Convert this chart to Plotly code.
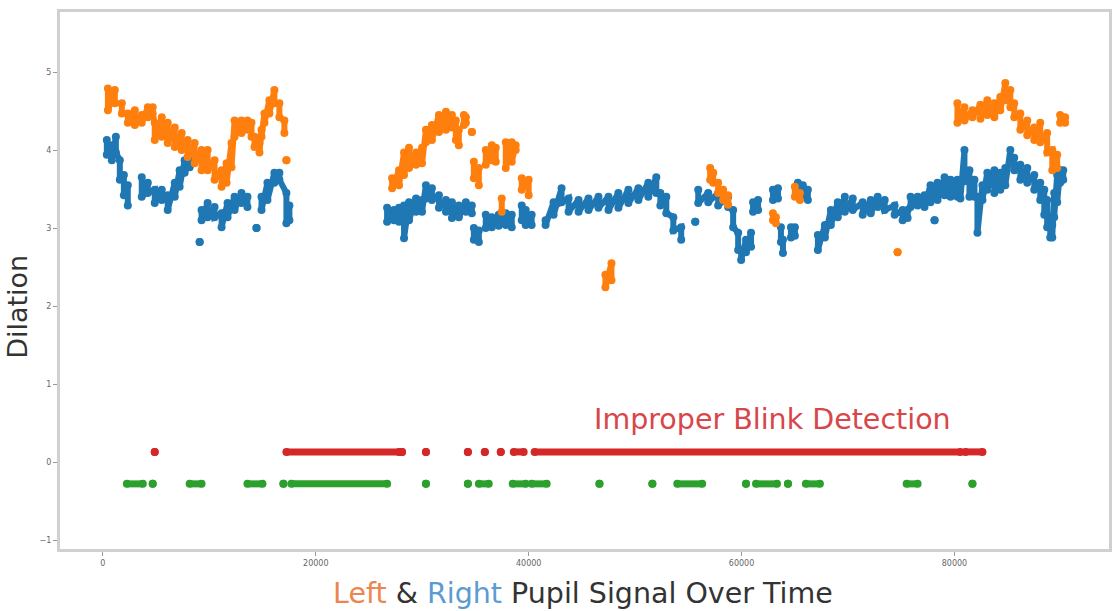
import plotly.graph_objects as go

# ---- Right pupil: time (ms), max / min dilation within each time bin; None marks a gap ----
right_t = [370, 840, 1220, 1590, 1970, 2340, None,
           3650, 4220, 4870, 5530, 6090, 6750, 7210, 7680, 8150, None,
           9090, None,
           9270, 9840, 10490, 11150, 11710, 12370, 13020, 13580, None,
           14430, None,
           14900, 15460, 16110, 16580, 17240, 17520, None,
           26700, 27350, 27820, 28290, 28760, 29420, 29980, 30350, 30910, 31570, 32230, 32790, 33440, 34100, 34660, None,
           34850, 35320, None,
           35970, 36540, 37190, 37850, 38410, None,
           39350, 39720, 40280, None,
           41590, 42340, 43090, 43750, 44690, 45620, 46560, 47500, 48430, 49370, 50310, 51240, 51990, 52370, 52930, 53590, 54330, None,
           55650, None,
           55930, 56870, 57800, 58740, 59210, 59680, 59960, 60420, 60890, None,
           61080, 61550, None,
           62950, 63420, None,
           63700, 63890, None,
           64640, 65010, None,
           65290, 65760, 66230, None,
           67170, 67830, 68390, 69040, 69700, 70450, 71380, 72140, 72790, 73450, 74380, 75130, 75600, None,
           75880, 76540, 77190, 77750, 78410, 79070, 79630, 80280, 80560, 80940,
           81410, 81880, 82160, 82630, 83090, 83750, 84310, 84780, 85250, 85620,
           86190, 86840, 87500, 88060, 88440, 88710, 89000, 89190, 89370, 89650,
           89930, 90220, None,
           78130]
right_max = [4.13, 4.06, 4.17, 3.87, 3.68, 3.55, None,
             3.65, 3.58, 3.49, 3.49, 3.42, 3.58, 3.74, 3.87, 3.87, None,
             2.82, None,
             3.23, 3.32, 3.27, 3.19, 3.32, 3.40, 3.45, 3.40, None,
             3.00, None,
             3.40, 3.58, 3.71, 3.71, 3.45, 3.29, None,
             3.26, 3.23, 3.26, 3.29, 3.33, 3.38, 3.36, 3.55, 3.51, 3.42, 3.36, 3.33, 3.29, 3.33, 3.29, None,
             3.00, 2.97, None,
             3.17, 3.14, 3.17, 3.19, 3.17, None,
             3.29, 3.23, 3.17, None,
             3.10, 3.33, 3.51, 3.38, 3.36, 3.38, 3.40, 3.40, 3.45, 3.49, 3.51, 3.58, 3.65, 3.45, 3.40, 3.14, 3.01, None,
             3.08, None,
             3.49, 3.45, 3.45, 3.40, 3.23, 2.94, 2.72, 2.85, 2.94, None,
             3.33, 3.36, None,
             3.49, 3.51, None,
             3.01, 2.85, None,
             3.01, 3.01, None,
             3.58, 3.55, 3.49, None,
             2.91, 3.04, 3.23, 3.33, 3.40, 3.38, 3.33, 3.36, 3.40, 3.36, 3.29, 3.23, 3.23, None,
             3.40, 3.40, 3.42, 3.55, 3.58, 3.65, 3.62, 3.62, 3.58, 4.00,
             3.74, 3.62, 3.40, 3.55, 3.71, 3.74, 3.71, 3.77, 4.00, 3.90,
             3.81, 3.77, 3.68, 3.58, 3.49, 3.36, 3.14, 3.04, 3.45, 3.68,
             3.74, 3.74, None,
             3.10]
right_min = [3.94, 3.87, 3.97, 3.62, 3.42, 3.29, None,
             3.40, 3.45, 3.32, 3.36, 3.23, 3.40, 3.53, 3.71, 3.78, None,
             2.82, None,
             3.10, 3.14, 3.14, 3.01, 3.14, 3.23, 3.32, 3.27, None,
             3.00, None,
             3.23, 3.36, 3.58, 3.62, 3.06, 3.10, None,
             3.08, 3.10, 3.08, 2.87, 3.10, 3.21, 3.21, 3.38, 3.36, 3.26, 3.21, 3.13, 3.14, 3.21, 3.19, None,
             2.85, 2.82, None,
             3.00, 3.01, 3.03, 3.04, 3.01, None,
             3.10, 3.04, 3.04, None,
             3.04, 3.17, 3.33, 3.21, 3.21, 3.23, 3.26, 3.23, 3.26, 3.32, 3.36, 3.40, 3.45, 3.29, 3.19, 2.97, 2.85, None,
             3.08, None,
             3.32, 3.33, 3.29, 3.27, 3.01, 2.72, 2.59, 2.69, 2.76, None,
             3.21, 3.23, None,
             3.36, 3.38, None,
             2.82, 2.68, None,
             2.88, 2.90, None,
             3.42, 3.40, 3.36, None,
             2.72, 2.88, 3.04, 3.14, 3.21, 3.23, 3.17, 3.19, 3.27, 3.23, 3.17, 3.10, 3.13, None,
             3.27, 3.29, 3.27, 3.33, 3.36, 3.42, 3.40, 3.40, 3.38, 3.60,
             3.40, 3.40, 2.94, 3.36, 3.49, 3.45, 3.49, 3.55, 3.83, 3.74,
             3.62, 3.58, 3.49, 3.36, 3.17, 3.01, 2.88, 2.88, 3.14, 3.33,
             3.58, 3.62, None,
             3.10]

# ---- Left pupil ----
left_t = [470, 1120, 1780, 2340, 3000, 3650, 4220, 4680, 4870, 5530,
          6090, 6750, 7400, 7960, 8620, 9270, 9840, 10490, 11150, 11620,
          12080, 12370, 13020, 13580, 13960, 14240, 14710, 14900, 15180, 15640,
          16110, 16580, 17050, None,
          17240, None,
          27170, 27820, 28290, 28760, 29420, 29980, 30350, 30910, 31570, 32230, 32790, 33160, 33440, None,
          33910, 34100, None,
          34660, None,
          34850, 35320, None,
          35970, 36540, 36910, None,
          37470, None,
          37850, 38410, 38780, None,
          39350, 40000, None,
          47210, 47780, None,
          57050, 57340, 57800, 58270, 58740, None,
          62950, 63230, None,
          65010, 65480, None,
          74660, None,
          80280, 80940, 81690, 82440, 83090, 83750, 84310, 84780, 85250, 85620,
          86190, 86840, 87500, 88060, 88710, 89190, 89650, None,
          89930, 90400]
left_max = [4.79, 4.77, 4.60, 4.47, 4.51, 4.45, 4.55, 4.55, 4.35, 4.42,
            4.35, 4.29, 4.22, 4.13, 4.09, 4.00, 4.00, 3.87, 3.74, 3.83,
            4.09, 4.38, 4.38, 4.38, 4.35, 4.17, 4.09, 4.26, 4.47, 4.64,
            4.77, 4.60, 4.38, None,
            3.87, None,
            3.64, 3.74, 3.97, 4.03, 3.97, 4.03, 4.26, 4.32, 4.45, 4.49, 4.45, 4.38, 4.26, None,
            4.45, 4.42, None,
            4.23, None,
            3.85, 3.77, None,
            4.00, 4.06, 4.03, None,
            3.38, None,
            4.10, 4.10, 4.06, None,
            3.64, 3.62, None,
            2.40, 2.55, None,
            3.77, 3.71, 3.58, 3.49, 3.42, None,
            3.19, 3.14, None,
            3.53, 3.45, None,
            2.69, None,
            4.60, 4.55, 4.51, 4.58, 4.64, 4.60, 4.68, 4.86, 4.77, 4.60,
            4.47, 4.38, 4.29, 4.35, 4.22, 4.00, 3.94, None,
            4.45, 4.42]
left_min = [4.51, 4.60, 4.47, 4.35, 4.32, 4.35, 4.42, 4.47, 4.13, 4.17,
            4.09, 4.04, 4.00, 3.91, 3.83, 3.74, 3.74, 3.62, 3.53, 3.58,
            3.78, 4.17, 4.22, 4.26, 4.17, 4.04, 3.97, 4.17, 4.35, 4.47,
            4.60, 4.42, 4.22, None,
            3.87, None,
            3.51, 3.55, 3.68, 3.77, 3.81, 3.83, 4.10, 4.13, 4.23, 4.26, 4.29, 4.13, 4.06, None,
            4.32, 4.35, None,
            4.23, None,
            3.64, 3.55, None,
            3.81, 3.87, 3.85, None,
            3.21, None,
            3.77, 3.85, 4.00, None,
            3.49, 3.42, None,
            2.24, 2.33, None,
            3.62, 3.58, 3.45, 3.36, 3.30, None,
            3.10, 3.06, None,
            3.40, 3.36, None,
            2.69, None,
            4.35, 4.38, 4.42, 4.40, 4.45, 4.42, 4.51, 4.64, 4.55, 4.42,
            4.26, 4.19, 4.13, 4.10, 3.97, 3.74, 3.77, None,
            4.35, 4.35]

# ---- Blink detection intervals (ms) ----
improper_start = [4870, 17240, 28100, 30350, 34290, 35880, 37380, 38600, 40560, 81030]
improper_end = [4870, 27820, 28100, 30350, 34290, 35880, 37380, 39530, 80560, 82630]
improper_level = 0.13

blink_start = [2250, 4680, 8150, 13580, 16960, 17710, 30350, 34290, 35320, 38500, 40280,
               46650, 51620, 53960, 60420, 61360, 64360, 66040, 75510, 81690]
blink_end = [3750, 4680, 9270, 14990, 16960, 26700, 30350, 34290, 36250, 39720, 41690,
             46650, 51620, 56300, 60420, 63330, 64360, 67360, 76540, 81690]
blink_level = -0.28

x_ticks = [0, 20000, 40000, 60000, 80000]
y_ticks = [-1, 0, 1, 2, 3, 4, 5]

BLUE, ORANGE, RED, GREEN = "#1f77b4", "#ff7f0e", "#d62728", "#2ca02c"


def band(ts, hi, lo):
    """Interleave the max/min of each time bin into one polyline (None keeps gaps)."""
    assert len(ts) == len(hi) == len(lo)
    xs, ys = [], []
    for t, a, b in zip(ts, hi, lo):
        if t is None:
            xs.append(None)
            ys.append(None)
        else:
            xs += [t, t]
            ys += [a, b]
    return xs, ys


def intervals(starts, ends, level):
    xs, ys = [], []
    for s, e in zip(starts, ends):
        xs += [s, e, None]
        ys += [level, level, None]
    return xs, ys


fig = go.Figure()

for (xs, ys), color, lw, ms in [
        (band(right_t, right_max, right_min), BLUE, 6, 8),
        (band(left_t, left_max, left_min), ORANGE, 6, 8),
        (intervals(improper_start, improper_end, improper_level), RED, 7, 8),
        (intervals(blink_start, blink_end, blink_level), GREEN, 7, 8)]:
    fig.add_trace(go.Scatter(
        x=xs, y=ys, mode="lines+markers",
        line=dict(color=color, width=lw),
        marker=dict(color=color, size=ms, line=dict(width=0)),
        connectgaps=False, hoverinfo="skip", showlegend=False,
    ))

FONT = "DejaVu Sans"
axis_common = dict(
    showgrid=False, zeroline=False, showline=True, mirror=True,
    linecolor="#d0d0d0", linewidth=3,
    ticks="outside", ticklen=4, tickwidth=1, tickcolor="#999999",
    tickfont=dict(family=FONT, size=8, color="#666666"),
)

fig.update_layout(
    width=1120, height=611,
    margin=dict(l=60, r=8, t=12, b=62, pad=0),
    paper_bgcolor="white", plot_bgcolor="white",
    font=dict(family=FONT),
    xaxis=dict(range=[-4030, 94520], tickvals=x_ticks,
               ticktext=[str(v) for v in x_ticks], **axis_common),
    yaxis=dict(range=[-1.115, 5.77], tickvals=y_ticks, **axis_common),
    annotations=[
        dict(text="Dilation", xref="paper", yref="paper", x=-0.0405, y=0.45,
             textangle=-90, showarrow=False, xanchor="center", yanchor="middle",
             font=dict(family=FONT, size=27, color="#333333")),
        dict(text='<span style="color:#ec8650">Left</span> &amp; '
                  '<span style="color:#5a9bd0">Right</span> Pupil Signal Over Time',
             xref="paper", yref="paper", x=0.499, y=-0.082,
             showarrow=False, xanchor="center", yanchor="middle",
             font=dict(family=FONT, size=28.5, color="#333333")),
        dict(text="Improper Blink Detection", xref="x", yref="y", x=62950, y=0.54,
             showarrow=False, xanchor="center", yanchor="middle",
             font=dict(family=FONT, size=28.5, color="#d8464a")),
    ],
)

fig.write_html("out.html")
